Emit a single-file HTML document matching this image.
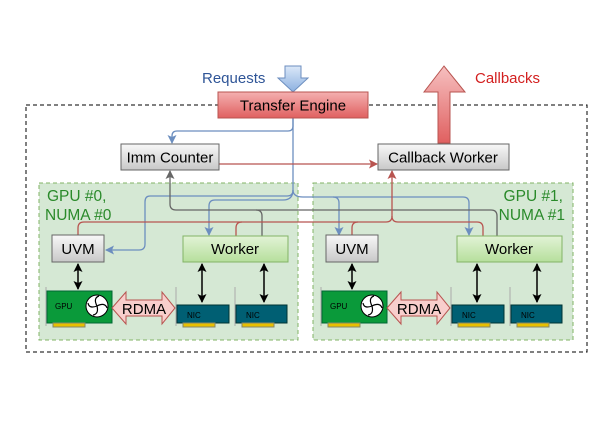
<!DOCTYPE html>
<html><head><style>body{margin:0;background:#fff}svg{display:block}text{font-family:"Liberation Sans",sans-serif}</style></head><body>
<svg width="600" height="433" viewBox="0 0 600 433" xmlns="http://www.w3.org/2000/svg">
<defs>
<linearGradient id="gr" x1="0" y1="0" x2="0" y2="1"><stop offset="0" stop-color="#f8f8f8"/><stop offset="1" stop-color="#c8c8c8"/></linearGradient>
<linearGradient id="rd" x1="0" y1="0" x2="0" y2="1"><stop offset="0" stop-color="#f4b0b0"/><stop offset="1" stop-color="#e06060"/></linearGradient>
<linearGradient id="gn" x1="0" y1="0" x2="0" y2="1"><stop offset="0" stop-color="#e2f3d6"/><stop offset="1" stop-color="#b6df9c"/></linearGradient>
<linearGradient id="bl" x1="0" y1="0" x2="0" y2="1"><stop offset="0" stop-color="#dbe8f8"/><stop offset="1" stop-color="#8cb0e0"/></linearGradient>
<linearGradient id="ru" x1="0" y1="1" x2="0" y2="0"><stop offset="0" stop-color="#e06060"/><stop offset="1" stop-color="#f6c0c0"/></linearGradient>
<marker id="ab" markerWidth="9" markerHeight="9" refX="8" refY="4.5" orient="auto" markerUnits="userSpaceOnUse"><path d="M0,0 L9,4.5 L0,9 L2,4.5z" fill="#6c8ebf"/></marker>
<marker id="ar" markerWidth="9" markerHeight="9" refX="8" refY="4.5" orient="auto" markerUnits="userSpaceOnUse"><path d="M0,0 L9,4.5 L0,9 L2,4.5z" fill="#b85450"/></marker>
<marker id="ag" markerWidth="9" markerHeight="9" refX="8" refY="4.5" orient="auto" markerUnits="userSpaceOnUse"><path d="M0,0 L9,4.5 L0,9 L2,4.5z" fill="#666"/></marker>
<marker id="ak" markerWidth="9" markerHeight="9" refX="8" refY="4.5" orient="auto-start-reverse" markerUnits="userSpaceOnUse"><path d="M0,0 L9,4.5 L0,9 L2,4.5z" fill="#000"/></marker>
</defs>
<rect x="26" y="105" width="561" height="247" fill="none" stroke="#000" stroke-dasharray="4,3"/>
<rect x="39" y="183" width="259" height="157" fill="#d5e8d4" stroke="#82b366" stroke-dasharray="4,3"/>
<rect x="313" y="183" width="260" height="157" fill="#d5e8d4" stroke="#82b366" stroke-dasharray="4,3"/>
<text x="47" y="201" font-size="15.5" fill="#2a8a2a">GPU #0,</text>
<text x="45" y="220" font-size="15.5" fill="#2a8a2a">NUMA #0</text>
<text x="563" y="201" font-size="15.5" fill="#2a8a2a" text-anchor="end">GPU #1,</text>
<text x="565" y="220" font-size="15.5" fill="#2a8a2a" text-anchor="end">NUMA #1</text>
<path d="M285,66 H301 V78 H308 L293,92 L278,78 H285Z" fill="url(#bl)" stroke="#6c8ebf"/>
<text x="202" y="83" font-size="15" fill="#2f5597">Requests</text>
<path d="M438,143 V92 H424 L444,66 L465,92 H450 V143Z" fill="url(#ru)" stroke="#b85450"/>
<text x="475" y="83" font-size="15" fill="#d32020">Callbacks</text>
<g fill="none" stroke-width="1.3">
<path d="M293,118 V126 Q293,131 288,131 H177 Q172,131 172,136 V143" stroke="#6c8ebf" marker-end="url(#ab)"/>
<path d="M293,118 V190 Q293,196 287,196 H150 Q145,196 145,202 V244 Q145,250 139,250 H106" stroke="#6c8ebf" marker-end="url(#ab)"/>
<path d="M293,190 Q293,200 283,200 H215 Q209,200 209,206 V235" stroke="#6c8ebf" marker-end="url(#ab)"/>
<path d="M293,190 Q293,197 303,197 H333 Q339,197 339,203 V235" stroke="#6c8ebf" marker-end="url(#ab)"/>
<path d="M333,197 H463 Q469,197 469,203 V235" stroke="#6c8ebf" marker-end="url(#ab)"/>
<path d="M262,236 V216 Q262,210 256,210 H176 Q170,210 170,204 V171" stroke="#666" marker-end="url(#ag)"/>
<path d="M497,236 V216 Q497,210 491,210 H256" stroke="#666"/>
<path d="M219,164 H377" stroke="#b85450" marker-end="url(#ar)"/>
<path d="M78,235 V228 Q78,222 84,222 H386 Q392,222 392,216 V171" stroke="#b85450" marker-end="url(#ar)"/>
<path d="M236,236 V228 Q236,222 242,222" stroke="#b85450"/>
<path d="M352,235 V228 Q352,222 358,222" stroke="#b85450"/>
<path d="M483,236 V228 Q483,222 477,222 H398 Q392,222 392,216" stroke="#b85450"/>
</g>
<rect x="218" y="92" width="150" height="26" fill="url(#rd)" stroke="#b85450"/>
<text x="293" y="110.5" font-size="15" text-anchor="middle">Transfer Engine</text>
<rect x="121" y="144" width="98" height="26" fill="url(#gr)" stroke="#666"/>
<text x="170" y="162.5" font-size="15" text-anchor="middle">Imm Counter</text>
<rect x="378" y="144" width="131" height="26" fill="url(#gr)" stroke="#666"/>
<text x="443" y="162.5" font-size="15" text-anchor="middle">Callback Worker</text>
<rect x="52" y="235" width="52" height="27" fill="url(#gr)" stroke="#666"/>
<text x="78" y="254" font-size="15" text-anchor="middle">UVM</text>
<rect x="183" y="236" width="105" height="26" fill="url(#gn)" stroke="#82b366"/>
<text x="235" y="254" font-size="15" text-anchor="middle">Worker</text>
<rect x="326" y="235" width="52" height="27" fill="url(#gr)" stroke="#666"/>
<text x="352" y="254" font-size="15" text-anchor="middle">UVM</text>
<rect x="457" y="236" width="105" height="26" fill="url(#gn)" stroke="#82b366"/>
<text x="509" y="254" font-size="15" text-anchor="middle">Worker</text>
<g stroke="#000" stroke-width="1.5" marker-start="url(#ak)" marker-end="url(#ak)">
<line x1="78" y1="264" x2="78" y2="289"/><line x1="202" y1="264" x2="202" y2="302"/><line x1="264" y1="264" x2="264" y2="302"/>
<line x1="352" y1="264" x2="352" y2="289"/><line x1="477" y1="264" x2="477" y2="302"/><line x1="537" y1="264" x2="537" y2="302"/>
</g>
<g id="c0">
<path d="M46,287 V326" stroke="#aaa" fill="none"/>
<rect x="47" y="291" width="65" height="32" fill="#0a9a3a" stroke="#063"/>
<rect x="53" y="323" width="32" height="4" fill="#e8c000" stroke="#886"/>
<text x="55" y="309" font-size="8" font-family="Liberation Mono">GPU</text>
<circle cx="97" cy="306" r="11" fill="#fff" stroke="#000"/>
<g stroke="#000" stroke-width="1.2" fill="none"><path d="M97,306 Q93,298 99,296"/><path d="M97,306 Q105,302 107,308"/><path d="M97,306 Q99,314 93,315"/><path d="M97,306 Q89,309 88,303"/></g>
<path d="M112,308 L126,292 V300 H162 V292 L175,308 L162,324 V316 H126 V324Z" fill="#f8cecc" stroke="#b85450"/>
<text x="144" y="314" font-size="15" text-anchor="middle">RDMA</text>
<path d="M176,287 V326" stroke="#aaa" fill="none"/>
<rect x="177" y="305" width="52" height="18" fill="#005f73" stroke="#033"/>
<rect x="183" y="323" width="32" height="4" fill="#e8c000" stroke="#886"/>
<text x="187" y="318" font-size="8" font-family="Liberation Mono" fill="#000">NIC</text>
<path d="M235,287 V326" stroke="#aaa" fill="none"/>
<rect x="236" y="305" width="51" height="18" fill="#005f73" stroke="#033"/>
<rect x="242" y="323" width="32" height="4" fill="#e8c000" stroke="#886"/>
<text x="246" y="318" font-size="8" font-family="Liberation Mono">NIC</text>
</g>
<use href="#c0" transform="translate(275,0)"/>
</svg>
</body></html>
